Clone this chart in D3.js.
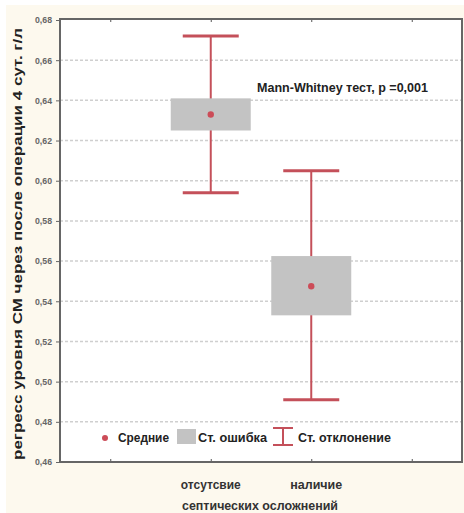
<!DOCTYPE html>
<html><head><meta charset="utf-8">
<script src="https://cdn.jsdelivr.net/npm/d3@7"></script>
<style>body{margin:0;background:#fff}svg{display:block}</style>
</head><body>
<svg id="c" width="464" height="513"></svg>
<script>
const categories = ["отсутсвие", "наличие"];
const catPos = [1, 2];
const means = [0.633, 0.5475];
const seLow = [0.625, 0.533];
const seHigh = [0.641, 0.5625];
const sdLow = [0.594, 0.491];
const sdHigh = [0.672, 0.605];
const yTicks = [0.46,0.48,0.50,0.52,0.54,0.56,0.58,0.60,0.62,0.64,0.66,0.68];
const xTicks = [0,1,2,3];
const yTitle = "регресс уровня СМ через после операции 4 сут. г/л";
const xTitle = "септических осложнений";
const note = "Mann-Whitney тест, p =0,001";
const legendLabels = ["Средние", "Ст. ошибка", "Ст. отклонение"];

const svg = d3.select("#c");
const L=60,R=462,T=19,B=462;
const font = "'Liberation Sans Narrow','Arial Narrow','Liberation Sans',Arial,sans-serif";
const red = "#c4505a";

svg.append("rect").attr("x",6).attr("y",5).attr("width",458).attr("height",508).attr("fill","#fdf9ee");

const y = d3.scaleLinear().domain([0.46,0.68]).range([B,T+1]);
const x = d3.scaleLinear().domain([-0.5,3.5]).range([L,R]);

svg.append("rect").attr("x",L).attr("y",T).attr("width",R-L).attr("height",B-T).attr("fill","#fff");

// grid
svg.append("g").selectAll("line").data(yTicks.slice(1,-1)).join("line")
  .attr("x1",L).attr("x2",R).attr("y1",d=>y(d)).attr("y2",d=>y(d))
  .attr("stroke","#cfcfcf").attr("stroke-width",1.5).attr("stroke-dasharray","3,2");

// y axis
const yAxis = d3.axisLeft(y).tickValues(yTicks).tickSize(4).tickFormat(d=>d3.format(".2f")(d).replace(".",","));
const gy = svg.append("g").attr("transform",`translate(${L},0)`).call(yAxis);
gy.select(".domain").remove();
gy.selectAll("line").attr("stroke","#666");
gy.selectAll("text").attr("font-family",font).attr("font-size",9).attr("fill","#666").attr("font-weight","bold").attr("dx",-1)
  .attr("textLength",17).attr("lengthAdjust","spacingAndGlyphs");

// x ticks top & bottom (inward)
const gxb = svg.append("g").attr("transform",`translate(0,${B})`).call(d3.axisTop(x).tickValues(xTicks).tickSize(3).tickFormat(""));
gxb.select(".domain").remove(); gxb.selectAll("line").attr("stroke","#555");
const gxt = svg.append("g").attr("transform",`translate(0,${T})`).call(d3.axisBottom(x).tickValues(xTicks).tickSize(3).tickFormat(""));
gxt.select(".domain").remove(); gxt.selectAll("line").attr("stroke","#555");

// frame
svg.append("rect").attr("x",L).attr("y",T).attr("width",R-L).attr("height",B-T).attr("fill","none").attr("stroke","#666").attr("stroke-width",2);

// whiskers
const g = svg.append("g");
categories.forEach((c,i)=>{
  const cx = x(catPos[i]);
  g.append("line").attr("x1",cx).attr("x2",cx).attr("y1",y(sdHigh[i])).attr("y2",y(sdLow[i])).attr("stroke",red).attr("stroke-width",2);
  [sdHigh[i],sdLow[i]].forEach(v=>g.append("line").attr("x1",cx-28).attr("x2",cx+28).attr("y1",y(v)).attr("y2",y(v)).attr("stroke",red).attr("stroke-width",3));
  g.append("rect").attr("x",cx-40).attr("width",80).attr("y",y(seHigh[i])).attr("height",y(seLow[i])-y(seHigh[i])).attr("fill","#c3c3c3");
  g.append("circle").attr("cx",cx).attr("cy",y(means[i])).attr("r",3.2).attr("fill","#cc4c58");
});

function txt(xp,yp,s,size,len,anchor){
  const t = svg.append("text").attr("x",xp).attr("y",yp).attr("font-family",font).attr("font-weight","bold")
    .attr("font-size",size).attr("fill","#222").text(s);
  if(anchor) t.attr("text-anchor",anchor);
  if(len) t.attr("textLength",len).attr("lengthAdjust","spacingAndGlyphs");
  return t;
}

// note
txt(257,92,note,13,171);

// legend
const ly = 438;
svg.append("circle").attr("cx",105).attr("cy",ly).attr("r",3).attr("fill","#cc4c58");
txt(118,ly+4,legendLabels[0],12.5,51);
svg.append("rect").attr("x",177).attr("y",429).attr("width",19).attr("height",15).attr("fill","#c3c3c3");
txt(198,ly+4,legendLabels[1],12.5,69);
svg.append("line").attr("x1",283).attr("x2",283).attr("y1",428).attr("y2",445).attr("stroke",red).attr("stroke-width",2);
svg.append("line").attr("x1",273).attr("x2",293).attr("y1",428).attr("y2",428).attr("stroke",red).attr("stroke-width",2);
svg.append("line").attr("x1",273).attr("x2",293).attr("y1",445).attr("y2",445).attr("stroke",red).attr("stroke-width",2);
txt(298,ly+4,legendLabels[2],12.5,93);

// x labels
const xlLen = [60, 52];
categories.forEach((c,i)=>{
  txt(x(catPos[i])+(i==1?5:0),489,c,12.5,xlLen[i],"middle").attr("fill","#333");
});
txt(260,510,xTitle,12.5,156,"middle").attr("fill","#333");

// y title
txt(0,0,yTitle,13,432,"middle").attr("transform","translate(22,244) rotate(-90)");
</script>
</body></html>
